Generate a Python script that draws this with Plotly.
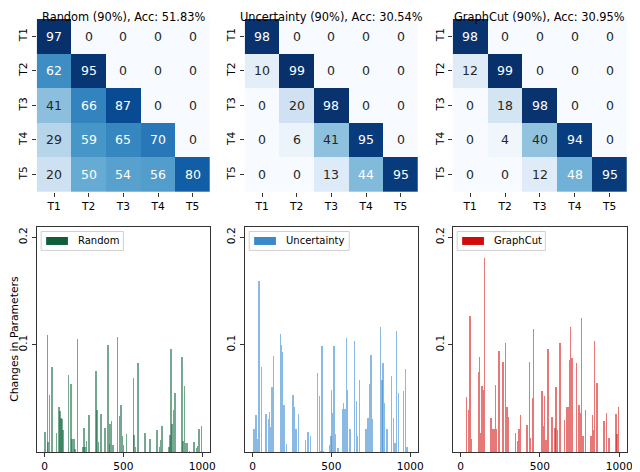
import plotly.graph_objects as go
import plotly.colors

Blues = plotly.colors.sequential.Blues

tasks = ["T1", "T2", "T3", "T4", "T5"]

titles = ["Random (90%), Acc: 51.83%",
          "Uncertainty (90%), Acc: 30.54%",
          "GraphCut (90%), Acc: 30.95%"]

acc_random = [[97, 0, 0, 0, 0],
              [62, 95, 0, 0, 0],
              [41, 66, 87, 0, 0],
              [29, 59, 65, 70, 0],
              [20, 50, 54, 56, 80]]
acc_uncert = [[98, 0, 0, 0, 0],
              [10, 99, 0, 0, 0],
              [0, 20, 98, 0, 0],
              [0, 6, 41, 95, 0],
              [0, 0, 13, 44, 95]]
acc_graphcut = [[98, 0, 0, 0, 0],
                [12, 99, 0, 0, 0],
                [0, 18, 98, 0, 0],
                [0, 4, 40, 94, 0],
                [0, 0, 12, 48, 95]]

# parameter index / change magnitude
rand_x = [0, 17, 21, 31, 46, 75, 90, 96, 102, 109, 115, 150, 165, 171, 184, 190,
          205, 242, 249, 255, 265, 280, 324, 330, 339, 355, 382, 399, 408, 414,
          422, 431, 460, 474, 483, 491, 500, 516, 560, 566, 575, 591, 635, 667,
          711, 725, 734, 742, 788, 794, 800, 807, 815, 826, 869, 876, 884, 892,
          901, 917, 945, 961, 968, 976, 993]
rand_y = [0.019, 0.109, 0.010, 0.054, 0.080, 0.018, 0.042, 0.039, 0.032, 0.031,
          0.021, 0.072, 0.064, 0.013, 0.013, 0.003, 0.106, 0.005, 0.023, 0.005,
          0.011, 0.035, 0.076, 0.040, 0.010, 0.036, 0.023, 0.100, 0.008, 0.027,
          0.029, 0.007, 0.108, 0.034, 0.044, 0.015, 0.007, 0.017, 0.069, 0.016,
          0.005, 0.083, 0.018, 0.013, 0.021, 0.005, 0.012, 0.025, 0.005, 0.016,
          0.096, 0.027, 0.040, 0.055, 0.089, 0.011, 0.062, 0.009, 0.009, 0.001,
          0.010, 0.004, 0.006, 0.022, 0.025]

unc_x = [6, 21, 29, 40, 54, 82, 98, 105, 113, 121, 130, 174, 180, 188, 197, 213,
         255, 264, 272, 289, 333, 349, 364, 410, 423, 431, 439, 446, 485, 494,
         500, 506, 515, 523, 540, 567, 575, 584, 592, 600, 615, 644, 657, 665,
         676, 718, 730, 741, 749, 757, 810, 818, 826, 835, 849, 879, 893, 902,
         910, 925, 954, 969, 977]
unc_y = [0.022, 0.035, 0.013, 0.160, 0.080, 0.036, 0.031, 0.038, 0.024, 0.061,
         0.090, 0.110, 0.100, 0.094, 0.044, 0.0075, 0.054, 0.042, 0.022, 0.036,
         0.012, 0.019, 0.015, 0.074, 0.053, 0.001, 0.099, 0.001, 0.007, 0.015,
         0.058, 0.037, 0.099, 0.017, 0.004, 0.041, 0.046, 0.041, 0.107, 0.058,
         0.022, 0.104, 0.048, 0.015, 0.068, 0.022, 0.032, 0.064, 0.091, 0.031,
         0.117, 0.068, 0.083, 0.046, 0.022, 0.071, 0.032, 0.009, 0.113, 0.055,
         0.057, 0.078, 0.005]

gc_x = [36, 48, 56, 65, 111, 117, 123, 134, 142, 149, 190, 199, 209, 218, 226,
        241, 266, 282, 291, 299, 343, 358, 366, 374, 416, 433, 439, 450, 458,
        510, 519, 527, 536, 550, 575, 592, 600, 609, 625, 653, 667, 675, 684,
        692, 700, 728, 745, 753, 761, 770, 784, 820, 828, 837, 843, 858, 902,
        918, 933, 977, 985, 994]
gc_y = [0.052, 0.040, 0.127, 0.013, 0.075, 0.089, 0.018, 0.062, 0.058, 0.181,
        0.032, 0.022, 0.022, 0.063, 0.022, 0.095, 0.084, 0.102, 0.042, 0.033,
        0.018, 0.011, 0.022, 0.035, 0.026, 0.084, 0.014, 0.051, 0.115, 0.057,
        0.025, 0.053, 0.012, 0.096, 0.033, 0.023, 0.061, 0.021, 0.102, 0.030,
        0.042, 0.042, 0.086, 0.117, 0.088, 0.083, 0.044, 0.037, 0.125, 0.015,
        0.040, 0.015, 0.035, 0.021, 0.104, 0.065, 0.029, 0.037, 0.014, 0.036,
        0.017, 0.042]

names = ["Random", "Uncertainty", "GraphCut"]
matrices = [acc_random, acc_uncert, acc_graphcut]
bar_xs = [rand_x, unc_x, gc_x]
bar_ys = [rand_y, unc_y, gc_y]
solid = ["#0e5e38", "#3a89c9", "#d20a0a"]
light = ["rgba(25,110,70,0.6)", "rgba(60,140,210,0.6)", "rgba(215,30,30,0.6)"]
legend_w = [83, 101, 89]

# the page body has an 8px margin, so lay out in window pixels and shift
W, H, OFF = 632, 464, 8


def fx(p):
    return (p - OFF) / W


def fy(p):
    return 1 - (p - OFF) / H


col_px = [(37, 212), (247, 422), (457, 633)]
top_dom = (fy(193), fy(19))
bot_dom = (fy(455), fy(228))

FONT = "DejaVu Sans"
fig = go.Figure()
annotations = []
shapes = []
layout = {}

for i in range(3):
    hx = "x%d" % (2 * i + 1)
    hy = "y%d" % (2 * i + 1)
    bx = "x%d" % (2 * i + 2)
    by = "y%d" % (2 * i + 2)
    left, right = col_px[i]
    dom = (fx(left), fx(right))
    z = matrices[i]
    zmax = max(max(r) for r in z)

    fig.add_trace(go.Heatmap(z=z, x=tasks, y=tasks, colorscale=Blues, zmin=0,
                             zmax=zmax, showscale=False, xaxis=hx, yaxis=hy,
                             hoverinfo="skip"))
    for r, row in enumerate(z):
        for c, v in enumerate(row):
            annotations.append(dict(x=tasks[c], y=tasks[r], xref=hx, yref=hy,
                                    text=str(v), showarrow=False,
                                    font=dict(family=FONT, size=12.5,
                                              color="white" if v / zmax > 0.44 else "#262626")))
    annotations.append(dict(x=(dom[0] + dom[1]) / 2, y=1, xref="paper",
                            yref="paper", text=titles[i], showarrow=False,
                            xanchor="center", yanchor="top",
                            font=dict(family=FONT, size=11.4, color="black")))

    layout[hx.replace("x", "xaxis")] = dict(
        domain=dom, anchor=hy, ticks="outside", ticklen=4, tickcolor="#333",
        showgrid=False, zeroline=False,
        tickfont=dict(family=FONT, size=10.6, color="black"))
    layout[hy.replace("y", "yaxis")] = dict(
        domain=top_dom, anchor=hx, autorange="reversed", ticks="outside",
        ticklen=4, tickcolor="#333", tickangle=-90, showgrid=False,
        zeroline=False, tickfont=dict(family=FONT, size=10.6, color="black"))

    fig.add_trace(go.Bar(x=bar_xs[i], y=bar_ys[i], width=9, xaxis=bx, yaxis=by,
                         marker=dict(color=light[i], line=dict(width=0)),
                         showlegend=False, hoverinfo="skip"))

    layout[bx.replace("x", "xaxis")] = dict(
        domain=dom, anchor=by, range=[-50, 1049], tickvals=[0, 500, 1000],
        ticks="outside", ticklen=4, tickcolor="#333", showline=True,
        linecolor="#333", mirror=True, showgrid=False, zeroline=False,
        tickfont=dict(family=FONT, size=10.6, color="black"))
    layout[by.replace("y", "yaxis")] = dict(
        domain=bot_dom, anchor=bx, range=[0, 0.21], tickvals=[0.1, 0.2],
        ticktext=["0.1", "0.2"], tickangle=-90, ticks="outside", ticklen=4,
        tickcolor="#333", showline=True, linecolor="#333", mirror=True,
        showgrid=False, zeroline=False,
        tickfont=dict(family=FONT, size=10.6, color="black"))

    # legend box, drawn like matplotlib's
    shapes.append(dict(type="rect", xref="paper", yref="paper",
                       x0=fx(left + 4.5), x1=fx(left + 4.5 + legend_w[i]),
                       y0=fy(252), y1=fy(233), fillcolor="white",
                       line=dict(color="#d0d0d0", width=1)))
    shapes.append(dict(type="rect", xref="paper", yref="paper",
                       x0=fx(left + 9.5), x1=fx(left + 31.5), y0=fy(246.5),
                       y1=fy(238.5), fillcolor=solid[i], line=dict(width=0)))
    annotations.append(dict(x=fx(left + 40), y=fy(242.5), xref="paper",
                            yref="paper", text=names[i], showarrow=False,
                            xanchor="left", yanchor="middle",
                            font=dict(family=FONT, size=10, color="black")))

annotations.append(dict(x=fx(15), y=fy(341), xref="paper", yref="paper",
                        text="Changes in Parameters", textangle=-90,
                        showarrow=False, xanchor="center", yanchor="middle",
                        font=dict(family=FONT, size=10.8, color="black")))

fig.update_layout(width=W, height=H, margin=dict(l=0, r=0, t=0, b=0),
                  plot_bgcolor="white", paper_bgcolor="white", bargap=0,
                  barmode="overlay", showlegend=False,
                  annotations=annotations, shapes=shapes,
                  font=dict(family=FONT), **layout)

fig.write_html("out.html")
